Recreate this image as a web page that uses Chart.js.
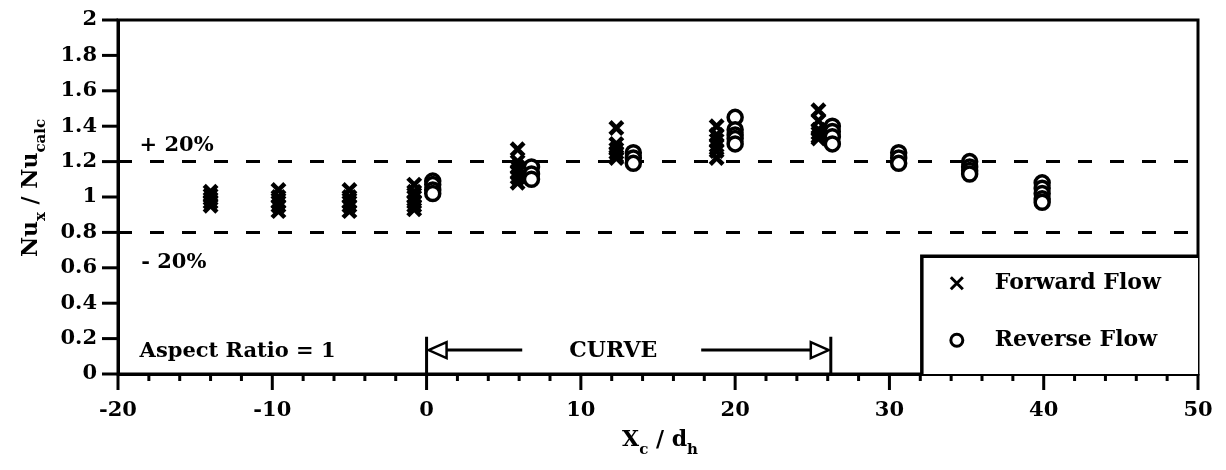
<!DOCTYPE html>
<html>
<head>
<meta charset="utf-8">
<title>Nu_x / Nu_calc vs X_c / d_h</title>
<script src="https://cdn.jsdelivr.net/npm/chart.js@4/dist/chart.umd.min.js"></script>
<style>
  html, body { margin: 0; padding: 0; background: #fff; }
  #wrap { width: 1226px; height: 470px; }
</style>
</head>
<body>
<div id="wrap"><canvas id="c" width="1226" height="470"></canvas></div>
<script>
// Forward-flow measurements (x = X_c/d_h, y = Nu_x/Nu_calc)
const forwardX = [
  -14, -14, -14, -14, -14,
  -9.6, -9.6, -9.6, -9.6, -9.6,
  -5, -5, -5, -5, -5,
  -0.8, -0.8, -0.8, -0.8, -0.8, -0.8,
  5.9, 5.9, 5.9, 5.9, 5.9, 5.9,
  12.3, 12.3, 12.3, 12.3, 12.3, 12.3,
  18.8, 18.8, 18.8, 18.8, 18.8, 18.8,
  25.4, 25.4, 25.4, 25.4, 25.4, 25.4
];
const forwardY = [
  1.03, 1.01, 0.99, 0.97, 0.95,
  1.04, 1.00, 0.97, 0.95, 0.92,
  1.04, 1.00, 0.97, 0.95, 0.92,
  1.07, 1.03, 1.00, 0.97, 0.95, 0.93,
  1.27, 1.20, 1.17, 1.14, 1.11, 1.08,
  1.39, 1.30, 1.27, 1.25, 1.23, 1.22,
  1.40, 1.35, 1.32, 1.29, 1.26, 1.22,
  1.49, 1.43, 1.38, 1.36, 1.34, 1.33
];

// Reverse-flow measurements
const reverseX = [
  0.4, 0.4, 0.4, 0.4,
  6.8, 6.8, 6.8,
  13.4, 13.4, 13.4,
  20.0, 20.0, 20.0, 20.0, 20.0,
  26.3, 26.3, 26.3, 26.3,
  30.6, 30.6, 30.6,
  35.2, 35.2, 35.2, 35.2,
  39.9, 39.9, 39.9, 39.9, 39.9
];
const reverseY = [
  1.09, 1.07, 1.04, 1.02,
  1.17, 1.13, 1.10,
  1.25, 1.22, 1.19,
  1.45, 1.38, 1.35, 1.33, 1.30,
  1.40, 1.37, 1.34, 1.30,
  1.25, 1.22, 1.19,
  1.20, 1.17, 1.15, 1.13,
  1.08, 1.05, 1.02, 0.99, 0.97
];

// ±20 % band limits
const bandX = [-20, 50];
const bandUpper = [1.2, 1.2];
const bandLower = [0.8, 0.8];

// Axis tick positions
const xTickValues = [-20, -10, 0, 10, 20, 30, 40, 50];
const yTickValues = [0, 0.2, 0.4, 0.6, 0.8, 1, 1.2, 1.4, 1.6, 1.8, 2];

// Curved-section extent
const curveStart = 0;
const curveEnd = 26.2;

const SERIF = '"DejaVu Serif", "Liberation Serif", serif';
const font = (px) => 'bold ' + px + 'px ' + SERIF;

function pairs(xs, ys) { return xs.map((x, i) => ({ x: x, y: ys[i] })); }

const decorations = {
  id: 'decorations',
  afterDraw(chart) {
    const ctx = chart.ctx;
    const xs = chart.scales.x, ys = chart.scales.y;
    const a = chart.chartArea;
    const X = v => xs.getPixelForValue(v);
    const Y = v => ys.getPixelForValue(v);
    ctx.save();
    ctx.strokeStyle = '#000';
    ctx.fillStyle = '#000';
    ctx.lineCap = 'butt';

    // frame
    ctx.lineWidth = 3;
    ctx.strokeRect(a.left, a.top, a.right - a.left, a.bottom - a.top);

    // x ticks: majors every 10, minors every 2
    for (let v = -20; v <= 50; v += 2) {
      const px = X(v);
      const major = v % 10 === 0;
      ctx.lineWidth = 3;
      ctx.beginPath();
      ctx.moveTo(px, a.bottom);
      ctx.lineTo(px, a.bottom + (major ? 16 : 7));
      ctx.stroke();
    }
    // y ticks
    yTickValues.forEach(v => {
      const py = Y(v);
      ctx.lineWidth = 3;
      ctx.beginPath();
      ctx.moveTo(a.left - 16, py);
      ctx.lineTo(a.left, py);
      ctx.stroke();
    });

    // band labels
    ctx.font = font(21);
    ctx.textAlign = 'left';
    ctx.textBaseline = 'middle';
    ctx.fillText('+ 20%', X(-18.6), Y(1.29));
    ctx.fillText('- 20%', X(-18.5), Y(0.63));
    ctx.fillText('Aspect Ratio = 1', X(-18.6), Y(0.125));

    // CURVE marker
    const yArrow = Y(0.135);
    const xa = X(curveStart), xb = X(curveEnd);
    ctx.lineWidth = 3;
    ctx.beginPath();
    ctx.moveTo(xa, a.bottom); ctx.lineTo(xa, Y(0.21));
    ctx.moveTo(xb, a.bottom); ctx.lineTo(xb, Y(0.21));
    ctx.stroke();
    ctx.lineWidth = 2.5;
    ctx.beginPath();
    ctx.moveTo(xa + 2, yArrow); ctx.lineTo(xa + 20, yArrow - 8); ctx.lineTo(xa + 20, yArrow + 8); ctx.closePath();
    ctx.moveTo(xb - 2, yArrow); ctx.lineTo(xb - 20, yArrow - 8); ctx.lineTo(xb - 20, yArrow + 8); ctx.closePath();
    ctx.stroke();
    ctx.lineWidth = 3;
    ctx.beginPath();
    ctx.moveTo(xa + 20, yArrow); ctx.lineTo(X(6.2), yArrow);
    ctx.moveTo(X(17.8), yArrow); ctx.lineTo(xb - 20, yArrow);
    ctx.stroke();
    ctx.textAlign = 'center';
    ctx.font = font(22);
    ctx.fillText('CURVE', X(12.1), yArrow + 1);

    // legend box
    const lx = X(32.1), ly = Y(0.665);
    ctx.fillStyle = '#fff';
    ctx.fillRect(lx, ly, a.right - lx, a.bottom - ly);
    ctx.fillStyle = '#000';
    ctx.lineWidth = 3.5;
    ctx.beginPath();
    ctx.moveTo(lx, a.bottom); ctx.lineTo(lx, ly); ctx.lineTo(a.right, ly);
    ctx.stroke();
    const row1 = ly + 27, row2 = ly + 84;
    const mx = lx + 35;
    ctx.lineWidth = 3;
    ctx.beginPath();
    ctx.moveTo(mx - 6, row1 - 6); ctx.lineTo(mx + 6, row1 + 6);
    ctx.moveTo(mx + 6, row1 - 6); ctx.lineTo(mx - 6, row1 + 6);
    ctx.stroke();
    ctx.beginPath();
    ctx.arc(mx, row2, 6, 0, Math.PI * 2);
    ctx.stroke();
    ctx.textAlign = 'left';
    ctx.font = font(22);
    ctx.fillText('Forward Flow', lx + 73, row1);
    ctx.fillText('Reverse Flow', lx + 73, row2);

    // axis titles with subscripts
    const parts = (list, startX, base, vertical) => {
      let cx = startX;
      list.forEach(([t, sub]) => {
        ctx.font = font(sub ? 15 : 22);
        const w = ctx.measureText(t).width;
        if (!vertical) ctx.fillText(t, cx, base + (sub ? 8 : 0));
        else { ctx.save(); ctx.translate(base + (sub ? 8 : 0), cx); ctx.rotate(-Math.PI / 2); ctx.fillText(t, 0, 0); ctx.restore(); }
        cx += vertical ? -w : w;
      });
    };
    const widthOf = list => list.reduce((s, [t, sub]) => { ctx.font = font(sub ? 15 : 22); return s + ctx.measureText(t).width; }, 0);
    ctx.textBaseline = 'alphabetic';
    ctx.textAlign = 'left';
    const xTitle = [['X', false], ['c', true], [' / d', false], ['h', true]];
    parts(xTitle, 660 - widthOf(xTitle) / 2, 446, false);

    const yTitle = [['Nu', false], ['x', true], [' / Nu', false], ['calc', true]];
    parts(yTitle, 188 + widthOf(yTitle) / 2, 37, true);

    ctx.restore();
  }
};

new Chart(document.getElementById('c'), {
  type: 'scatter',
  data: {
    datasets: [
      {
        label: '+20%', type: 'line', data: pairs(bandX, bandUpper),
        borderColor: '#000', borderWidth: 3, borderDash: [14, 18],
        pointRadius: 0, fill: false, order: 3
      },
      {
        label: '-20%', type: 'line', data: pairs(bandX, bandLower),
        borderColor: '#000', borderWidth: 3, borderDash: [14, 18],
        pointRadius: 0, fill: false, order: 3
      },
      {
        label: 'Forward Flow', data: pairs(forwardX, forwardY),
        pointStyle: 'crossRot', pointRadius: 9, borderWidth: 4.5,
        borderColor: '#000', backgroundColor: '#000', order: 2
      },
      {
        label: 'Reverse Flow', data: pairs(reverseX, reverseY),
        pointStyle: 'circle', pointRadius: 7, borderWidth: 3.5,
        borderColor: '#000', backgroundColor: '#fff', order: 1
      }
    ]
  },
  options: {
    responsive: false,
    animation: false,
    layout: { padding: { top: 20, right: 28, left: 0, bottom: 0 } },
    plugins: { legend: { display: false }, tooltip: { enabled: false } },
    scales: {
      x: {
        type: 'linear', min: -20, max: 50,
        afterBuildTicks: s => { s.ticks = xTickValues.map(v => ({ value: v })); },
        afterFit: s => { s.height = 96; s.paddingLeft = 0; s.paddingRight = 0; },
        grid: { display: false, drawTicks: false },
        border: { display: true, color: '#000', width: 3 },
        ticks: { color: '#000', font: { family: SERIF, size: 21, weight: 'bold' }, padding: 24, maxRotation: 0 }
      },
      y: {
        type: 'linear', min: 0, max: 2,
        afterBuildTicks: s => { s.ticks = yTickValues.map(v => ({ value: v })); },
        afterFit: s => { s.width = 118; s.paddingTop = 0; s.paddingBottom = 0; },
        grid: { display: false, drawTicks: false },
        border: { display: true, color: '#000', width: 3 },
        ticks: {
          color: '#000', font: { family: SERIF, size: 21, weight: 'bold' }, padding: 21,
          callback: v => String(Number(v.toFixed(1)))
        }
      }
    }
  },
  plugins: [decorations]
});
</script>
</body>
</html>
